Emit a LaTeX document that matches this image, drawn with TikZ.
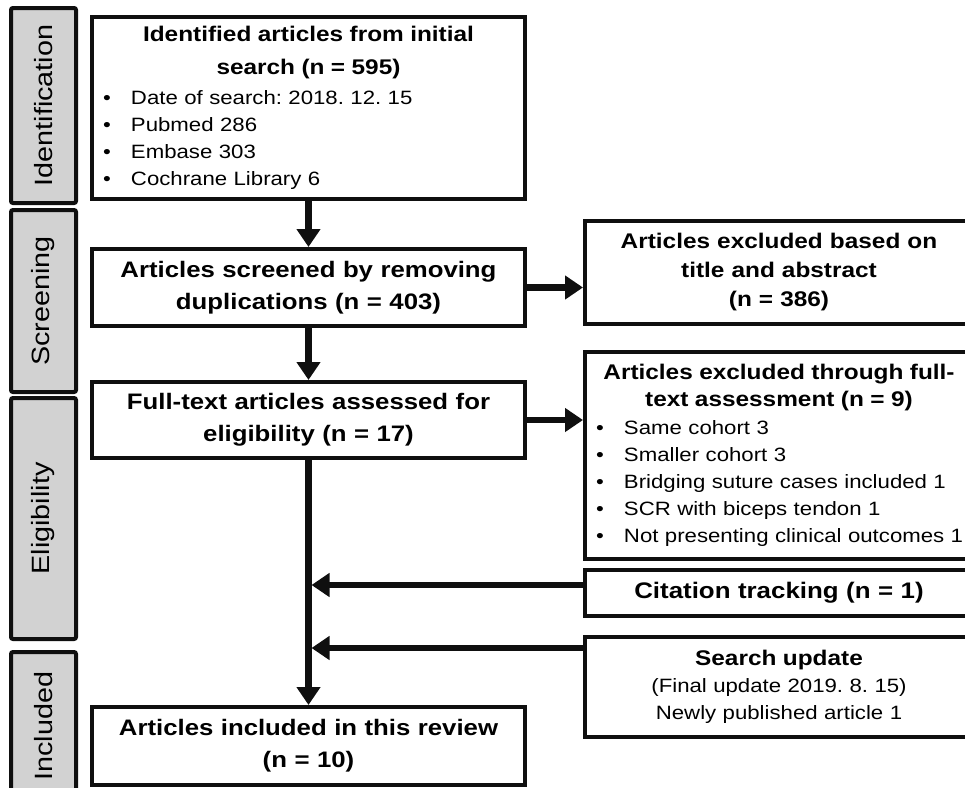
\documentclass[tikz,border=0pt]{standalone}
\usepackage{fontspec}
\setmainfont[FakeStretch=1.15]{Liberation Sans}
\usepackage{xcolor}
\definecolor{prismaTab}{RGB}{210, 210, 210}
\definecolor{prismaInk}{RGB}{15, 15, 15}
\usepackage{tikz}
\usetikzlibrary{arrows.meta, positioning}

\newcommand{\blt}[1]{\makebox[\hsize][l]{\makebox[28pt][l]{\textbullet}#1}}
\newcommand{\ttl}[1]{{\fontsize{21.2}{27}\selectfont\bfseries #1}}

\begin{document}
\frenchspacing
\begin{tikzpicture}[
    x=1pt, y=-1pt,
    mainBox/.style={
        rectangle, draw=prismaInk, line width=4pt, fill=white,
        font=\fontsize{22.4}{32}\selectfont\bfseries, align=center,
        inner xsep=11pt, inner ysep=0pt,
        minimum width=433pt, text width=411pt
    },
    sideBox/.style={
        rectangle, draw=prismaInk, line width=4pt, fill=white,
        font=\fontsize{19.3}{27}\selectfont, align=center,
        inner xsep=11pt, inner ysep=0pt,
        minimum width=388pt, text width=366pt
    },
    phaseTab/.style={
        rectangle, rounded corners=2pt, rotate=90,
        draw=prismaInk, line width=4pt, fill=prismaTab,
        font=\fontsize{25}{25}\selectfont,
        minimum height=65pt, inner sep=0pt
    },
    flowArrow/.style={
        -{Triangle[length=18pt, width=23pt]}, line width=6.5pt, draw=prismaInk
    }
]
    \path[use as bounding box] (0,0) rectangle (965,787);
    \clip (0,0) rectangle (965,787);

    % Phase tabs
    \node[phaseTab, minimum width=195pt] (tabId) at (43.5, 105.5) {Identification};
    \node[phaseTab, minimum width=182pt] (tabScr) at (43.5, 301) {Screening};
    \node[phaseTab, minimum width=241pt] (tabElig) at (43.5, 518.5) {Eligibility};
    \node[phaseTab, minimum width=148pt] (tabIncl) at (43.5, 726) {Included};

    % Main column
    \node[mainBox, minimum height=182pt, font=\fontsize{19.3}{27}\selectfont] (idBox) at (308.5, 108) {%
        \ttl{Identified articles from initial}\\[6pt]
        \ttl{search (n = 595)}\\[3pt]
        \blt{Date of search: 2018. 12. 15}\\
        \blt{Pubmed 286}\\
        \blt{Embase 303}\\
        \blt{Cochrane Library 6}};
    \node[mainBox, minimum height=77pt] (scrBox) at (308.5, 287.5) {Articles screened by removing\\duplications (n = 403)};
    \node[mainBox, minimum height=76pt] (fullBox) at (308.5, 420) {Full-text articles assessed for\\eligibility (n = 17)};
    \node[mainBox, minimum height=78pt] (inclBox) at (308.5, 746) {Articles included in this review\\(n = 10)};

    % Side column
    \node[sideBox, minimum height=103pt, font=\fontsize{21.2}{29}\selectfont\bfseries] (exclAbs) at (779, 272.5) {Articles excluded based on\\title and abstract\\(n = 386)};
    \node[sideBox, minimum height=207pt] (exclFull) at (779, 455.5) {%
        \ttl{Articles excluded through full-}\\
        \ttl{text assessment (n = 9)}\\[1pt]
        \blt{Same cohort 3}\\
        \blt{Smaller cohort 3}\\
        \blt{Bridging suture cases included 1}\\
        \blt{SCR with biceps tendon 1}\\
        \blt{Not presenting clinical outcomes 1}};
    \node[sideBox, minimum height=46pt, font=\fontsize{22.5}{27}\selectfont\bfseries] (citBox) at (779, 593) {Citation tracking (n = 1)};
    \node[sideBox, minimum height=100pt] (updBox) at (779, 687) {%
        \ttl{Search update}\\
        (Final update 2019. 8. 15)\\
        Newly published article 1};

    % Flow arrows
    \draw[flowArrow] (idBox.south) -- (scrBox.north);
    \draw[flowArrow] (scrBox.east) -- (scrBox.east -| exclAbs.west);
    \draw[flowArrow] (scrBox.south) -- (fullBox.north);
    \draw[flowArrow] (fullBox.east) -- (fullBox.east -| exclFull.west);
    \draw[flowArrow] (fullBox.south) -- (inclBox.north);

    % Additional records joining the main line
    \coordinate (citIn) at ([yshift=8pt]citBox.west);
    \coordinate (updIn) at ([yshift=-13pt]updBox.north west);
    \draw[flowArrow, shorten >=3pt] (citIn) -- (citIn -| fullBox.south);
    \draw[flowArrow, shorten >=3pt] (updIn) -- (updIn -| fullBox.south);

\end{tikzpicture}
\end{document}
